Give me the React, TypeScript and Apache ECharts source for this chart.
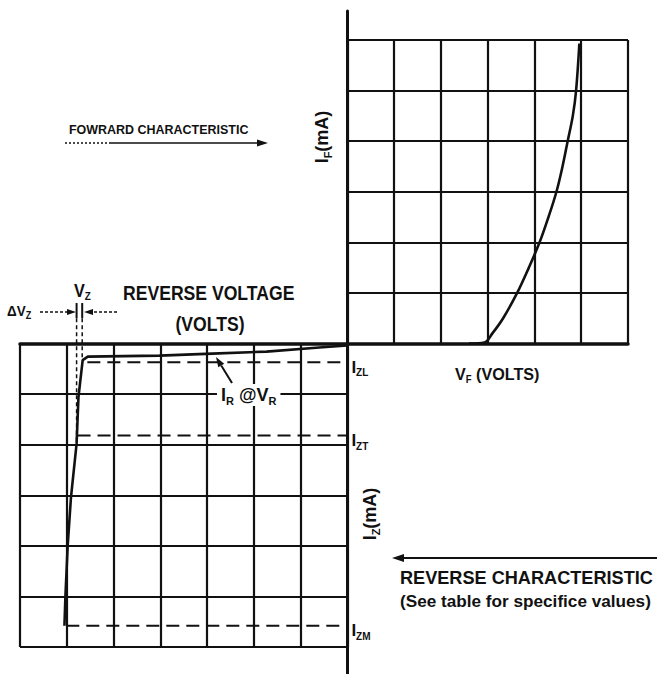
import React, { useEffect, useRef } from "react";
import * as echarts from "echarts";

// ---- data (grid cell units; 1 unit = one grid cell) ----
const forwardCells = [6, 6]; // columns, rows of forward quadrant
const reverseCells = [7, 6]; // columns, rows of reverse quadrant

const forwardV = [2.6, 2.93, 3.1, 3.33, 3.63, 3.88, 4.11, 4.3, 4.47, 4.6, 4.71, 4.82, 4.89, 4.96];
const forwardI = [0, 0.02, 0.2, 0.5, 1, 1.5, 2, 2.5, 3, 3.5, 4, 4.5, 5, 5.93];

const reverseV = [0, -0.6, -1.73, -2.89, -4.02, -5.55, -5.66, -5.75, -5.79, -5.91, -5.98, -6.03, -6.05];
const reverseI = [-0.04, -0.08, -0.16, -0.2, -0.24, -0.26, -0.33, -1.06, -1.98, -3.04, -3.99, -5.02, -5.58];

const levelNames = ["ZL", "ZT", "ZM"];
const levelI = [-0.37, -1.82, -5.58];
const levelStartV = [-5.56, -5.77, -6.01];

const vzV = [-5.79, -5.67];
const vzTop = [0.8, 0.8];
const vzTickEnd = [0.5, 0.5];
const vzBottom = [-2.0, -0.32];

const FONT = "'Liberation Sans', Arial, sans-serif";
const INK = "#111";

function arrowEls(x1: number, y1: number, x2: number, y2: number, o: any = {}) {
  const width = o.width ?? 2;
  const head = o.head ?? 10;
  const headW = o.headW ?? 7;
  const dx = x2 - x1, dy = y2 - y1;
  const len = Math.hypot(dx, dy);
  const ux = dx / len, uy = dy / len;
  const bx = x2 - ux * head, by = y2 - uy * head;
  const px = (-uy * headW) / 2, py = (ux * headW) / 2;
  return [
    {
      type: "line",
      silent: true,
      z: 100,
      shape: { x1, y1, x2: bx, y2: by },
      style: { stroke: INK, lineWidth: width, lineDash: o.dash || null },
    },
    {
      type: "polygon",
      silent: true,
      z: 100,
      shape: { points: [[x2, y2], [bx + px, by + py], [bx - px, by - py]] },
      style: { fill: INK },
    },
  ];
}

function txt(text: string, x: number, y: number, size: number, o: any = {}) {
  return {
    type: "text",
    silent: true,
    z: 100,
    x,
    y,
    rotation: o.rotation || 0,
    scaleX: o.sx || 1,
    style: {
      text,
      fill: INK,
      fontSize: size,
      fontWeight: "bold",
      fontFamily: FONT,
      textAlign: o.align || "left",
      align: o.align || "left",
      textVerticalAlign: "middle",
      verticalAlign: "middle",
      rich: o.rich,
      backgroundColor: o.bg,
      padding: o.padding,
    },
  };
}

function subRich(main: number, sub: number) {
  return {
    m: { fontSize: main, lineHeight: main + 4, fontWeight: "bold", fontFamily: FONT, fill: INK, color: INK },
    s: {
      fontSize: sub,
      lineHeight: sub,
      verticalAlign: "bottom",
      fontWeight: "bold",
      fontFamily: FONT,
      fill: INK,
      color: INK,
    },
  };
}

export default function App() {
  const ref = useRef<HTMLDivElement>(null);
  useEffect(() => {
    if (!ref.current) return;
    const chart = echarts.init(ref.current, undefined, { renderer: "svg" });
    const H = 674;
    const L = 20, R = 628, T = 40, B = 647;
    const cols = forwardCells[0] + reverseCells[0];
    const X0 = L + ((R - L) * reverseCells[0]) / cols;
    const rows = forwardCells[1] + reverseCells[1];
    const Y0 = T + ((B - T) * forwardCells[1]) / rows;

    const hidden = {
      axisLine: { show: false },
      axisTick: { show: false },
      axisLabel: { show: false },
      splitLine: { show: false },
    };
    const cell = {
      type: "value",
      interval: 1,
      axisLine: { show: false },
      axisTick: { show: false },
      axisLabel: { show: false },
      splitLine: { show: true, showMinLine: true, showMaxLine: true, lineStyle: { color: INK, width: 2.2 } },
    };

    const series: any[] = [];
    const xy = (xs: number[], ys: number[]) => xs.map((v, i) => [v, ys[i]]);
    const base = { type: "line", xAxisIndex: 2, yAxisIndex: 2, symbol: "none", silent: true, z: 5 };
    series.push({
      ...base,
      name: "forward",
      data: xy(forwardV, forwardI),
      smooth: 0.35,
      lineStyle: { color: INK, width: 2.6 },
    });
    series.push({
      ...base,
      name: "reverse",
      data: xy(reverseV, reverseI),
      lineStyle: { color: INK, width: 2.6 },
    });
    levelNames.forEach((n, i) => {
      series.push({
        ...base,
        name: "I" + n,
        data: [
          [levelStartV[i], levelI[i]],
          [0, levelI[i]],
        ],
        lineStyle: { color: INK, width: 2, type: [13, 7] },
        endLabel: {
          show: true,
          distance: 4,
          offset: [0, 5],
          formatter: `{m|I}{s|${n}}`,
          rich: subRich(17, 10),
        },
      });
    });
    vzV.forEach((v, i) => {
      series.push({
        ...base,
        name: "vz" + i,
        data: [
          [v, vzTop[i]],
          [v, vzTickEnd[i]],
        ],
        lineStyle: { color: INK, width: 2 },
      });
      series.push({
        ...base,
        name: "vzd" + i,
        data: [
          [v, vzTickEnd[i]],
          [v, vzBottom[i]],
        ],
        lineStyle: { color: INK, width: 1.5, type: [4, 3] },
      });
    });

    const graphic: any[] = [
      txt("FOWRARD CHARACTERISTIC", 69, 129, 13, { sx: 0.96 }),
      {
        type: "line",
        silent: true,
        z: 100,
        shape: { x1: 65, y1: 143, x2: 110, y2: 143 },
        style: { stroke: INK, lineWidth: 1.4, lineDash: [2, 2] },
      },
      ...arrowEls(110, 143, 268, 143, { width: 1.6, head: 11, headW: 7 }),
      txt("REVERSE VOLTAGE", 123, 293, 20, { sx: 0.88 }),
      txt("(VOLTS)", 210, 324, 20, { align: "center", sx: 0.88 }),
      txt("{m|V}{s|Z}", 74, 291, 0, { rich: subRich(18, 11), sx: 0.9 }),
      txt("{m|ΔV}{s|Z}", 7, 311, 0, { rich: subRich(15, 10), sx: 0.9 }),
      ...arrowEls(40, 312, 76, 312, { width: 1.5, head: 9, headW: 6, dash: [3, 2] }),
      ...arrowEls(117, 312, 84, 312, { width: 1.5, head: 9, headW: 6, dash: [3, 2] }),
      txt("{m|I}{s|F}{m|(mA)}", 322, 137, 0, { rich: subRich(18, 11), align: "center", rotation: Math.PI / 2 }),
      txt("{m|I}{s|Z}{m|(mA)}", 370, 514, 0, { rich: subRich(18, 11), align: "center", rotation: Math.PI / 2 }),
      txt("{m|V}{s|F}{m| (VOLTS)}", 455, 374, 0, { rich: subRich(17, 10), sx: 0.95 }),
      txt("{m|I}{s|R}{m| @V}{s|R}", 217, 395, 0, { rich: subRich(18, 11), bg: "#fff", padding: [0, 4, 0, 4] }),
      ...arrowEls(232, 383, 216, 357, { width: 2, head: 10, headW: 7 }),
      ...arrowEls(657, 558, 392, 558, { width: 2, head: 12, headW: 8 }),
      txt("REVERSE CHARACTERISTIC", 400, 577, 19, { sx: 0.955 }),
      txt("(See table for specifice values)", 400, 602, 17, { sx: 1.01 }),
    ];

    chart.setOption({
      animation: false,
      backgroundColor: "#fff",
      grid: [
        { left: X0, top: T, width: R - X0, height: Y0 - T, show: false },
        { left: L, top: Y0, width: X0 - L, height: B - Y0, show: false },
        { left: L, top: T, width: R - L, height: B - T, show: false },
        { left: X0, top: 11, width: 1, height: H - 11, show: false },
      ],
      xAxis: [
        { ...cell, gridIndex: 0, min: 0, max: forwardCells[0] },
        { ...cell, gridIndex: 1, min: -reverseCells[0], max: 0 },
        {
          type: "value",
          gridIndex: 2,
          min: -reverseCells[0],
          max: forwardCells[0],
          ...hidden,
          axisLine: { show: true, onZero: true, lineStyle: { color: INK, width: 3.5 } },
        },
        { type: "value", gridIndex: 3, min: 0, max: 1, ...hidden },
      ],
      yAxis: [
        { ...cell, gridIndex: 0, min: 0, max: forwardCells[1] },
        { ...cell, gridIndex: 1, min: -reverseCells[1], max: 0 },
        { type: "value", gridIndex: 2, min: -reverseCells[1], max: forwardCells[1], ...hidden },
        {
          type: "value",
          gridIndex: 3,
          min: 0,
          max: 1,
          ...hidden,
          axisLine: { show: true, onZero: false, lineStyle: { color: INK, width: 3 } },
        },
      ],
      series,
      graphic,
    });
    return () => chart.dispose();
  }, []);
  return (
    <div
      ref={ref}
      style={{ position: "fixed", left: 0, top: 0, width: 657, height: 674, background: "#fff" }}
    />
  );
}
